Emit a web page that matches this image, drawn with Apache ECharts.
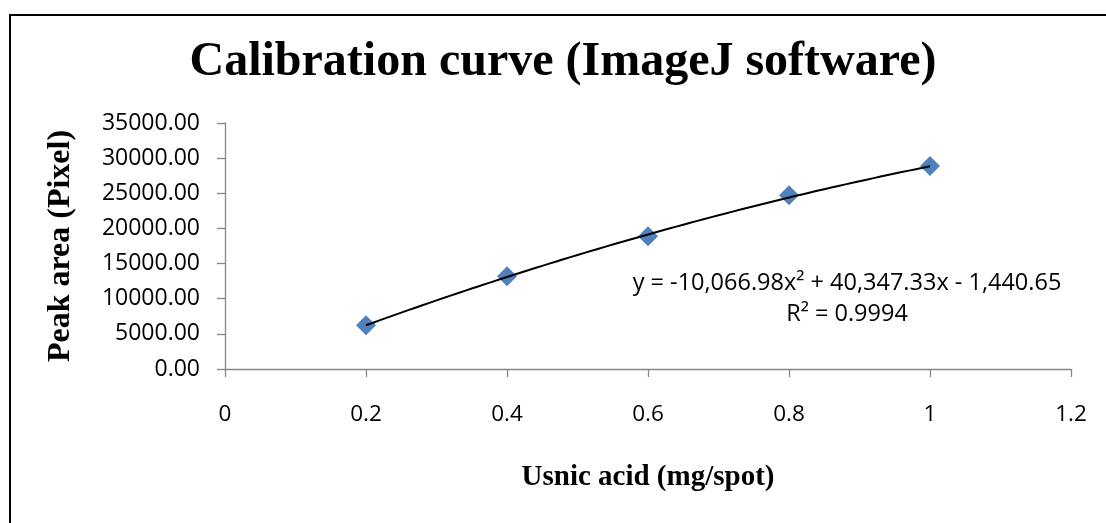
<!DOCTYPE html>
<html>
<head>
<meta charset="utf-8">
<script src="https://cdn.jsdelivr.net/npm/echarts@6/dist/echarts.min.js"></script>
<style>html,body{margin:0;padding:0;background:#fff}#chart{width:1106px;height:523px}</style>
</head>
<body>
<div id="chart"></div>
<script>
// Data
var concentrations = [0.2, 0.4, 0.6, 0.8, 1.0];          // mg/spot
var peakAreas = [6220, 13190, 18880, 24710, 28880];      // pixel
// Quadratic trendline coefficients shown on the chart: a*x^2 + b*x + c
var trendCoeffs = [-10066.98, 40347.33, -1440.65];
var rSquared = '0.9994';
var xTicks = [0, 0.2, 0.4, 0.6, 0.8, 1, 1.2];
var yTicks = [0, 5000, 10000, 15000, 20000, 25000, 30000, 35000];

var titleText = 'Calibration curve (ImageJ software)';
var xName = 'Usnic acid (mg/spot)';
var yName = 'Peak area (Pixel)';

var points = concentrations.map(function (x, i) { return [x, peakAreas[i]]; });

// trendline evaluated from the displayed equation, over the data's x range
var trend = [];
var x0 = concentrations[0], x1 = concentrations[concentrations.length - 1];
for (var k = 0; k <= 80; k++) {
  var x = x0 + (x1 - x0) * k / 80;
  trend.push([x, trendCoeffs[0] * x * x + trendCoeffs[1] * x + trendCoeffs[2]]);
}
function fmt(n) { return Math.abs(n).toLocaleString('en-US', {minimumFractionDigits: 2, maximumFractionDigits: 2}); }
var eqText = 'y = ' + (trendCoeffs[0] < 0 ? '-' : '') + fmt(trendCoeffs[0]) + 'x\u00B2 ' +
  (trendCoeffs[1] < 0 ? '- ' : '+ ') + fmt(trendCoeffs[1]) + 'x ' +
  (trendCoeffs[2] < 0 ? '- ' : '+ ') + fmt(trendCoeffs[2]);

var sans = '"Open Sans", "Noto Sans", sans-serif';
var serif = '"Liberation Serif", "DejaVu Serif", serif';
var axisGray = '#868686';

var chart = echarts.init(document.getElementById('chart'), null, {renderer: 'canvas'});
chart.setOption({
  backgroundColor: '#fff',
  animation: false,
  grid: {left: 225, right: 35, top: 123, bottom: 154, containLabel: false},
  xAxis: {
    type: 'value', min: xTicks[0], max: xTicks[xTicks.length - 1], interval: 0.2,
    name: xName, nameLocation: 'middle', nameGap: 94,
    nameTextStyle: {fontFamily: serif, fontWeight: 'bold', fontSize: 29, color: '#000'},
    axisLine: {show: true, onZero: false, lineStyle: {color: axisGray, width: 1.3}},
    axisTick: {show: true, length: 8, lineStyle: {color: axisGray, width: 1.3}},
    axisLabel: {margin: 34, fontFamily: sans, fontSize: 22.5, color: '#000',
      formatter: function (v) { return String(Math.round(v * 10) / 10); }},
    splitLine: {show: false}
  },
  yAxis: {
    type: 'value', min: yTicks[0], max: yTicks[yTicks.length - 1], interval: 5000,
    name: yName, nameLocation: 'middle', nameGap: 148, nameRotate: 90,
    nameTextStyle: {fontFamily: serif, fontWeight: 'bold', fontSize: 32, color: '#000'},
    axisLine: {show: true, lineStyle: {color: axisGray, width: 1.3}},
    axisTick: {show: true, length: 8, lineStyle: {color: axisGray, width: 1.3}},
    axisLabel: {margin: 25, fontFamily: sans, fontSize: 23, color: '#000',
      formatter: function (v) { return v.toFixed(2); }},
    splitLine: {show: false}
  },
  series: [
    {
      type: 'scatter', data: points, symbol: 'diamond', symbolSize: 20,
      itemStyle: {color: '#4F81BD', opacity: 1}, z: 2
    },
    {
      type: 'line', data: trend, showSymbol: false, symbol: 'none', smooth: false,
      lineStyle: {color: '#000', width: 2}, z: 3, silent: true
    }
  ],
  graphic: [
    {type: 'rect', shape: {x: 10, y: 15, width: 1300, height: 700},
      style: {fill: 'none', stroke: '#000', lineWidth: 2}, silent: true, z: 100},
    {type: 'text', x: 563, y: 63, z: 100,
      style: {text: titleText, font: 'bold 48px ' + serif, fill: '#000', textAlign: 'center', textVerticalAlign: 'middle'}},
    {type: 'text', x: 847, y: 283, z: 100,
      style: {text: eqText, font: '23.5px ' + sans, fill: '#000', textAlign: 'center', textVerticalAlign: 'middle'}},
    {type: 'text', x: 847, y: 314, z: 100,
      style: {text: 'R\u00B2 = ' + rSquared, font: '23.5px ' + sans, fill: '#000', textAlign: 'center', textVerticalAlign: 'middle'}}
  ]
});
</script>
</body>
</html>
